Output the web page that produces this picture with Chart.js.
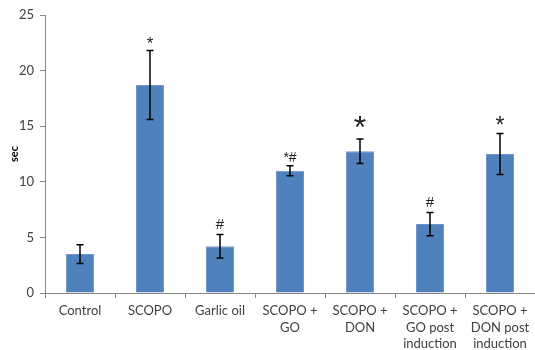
<!DOCTYPE html>
<html>
<head>
<meta charset="utf-8">
<script src="https://cdn.jsdelivr.net/npm/chart.js@4/dist/chart.umd.min.js"></script>
<style>
  html, body { margin: 0; padding: 0; background: #fff; }
  #wrap { width: 535px; height: 350px; position: relative; }
</style>
</head>
<body>
<div id="wrap"><canvas id="chart"></canvas></div>
<script>
// data
const categories = [
    ['Control'],
    ['SCOPO'],
    ['Garlic oil'],
    ['SCOPO +', 'GO'],
    ['SCOPO +', 'DON'],
    ['SCOPO +', 'GO post', 'induction'],
    ['SCOPO +', 'DON post', 'induction']
]
const means = [3.5, 18.7, 4.2, 11.0, 12.75, 6.2, 12.5]
const errors = [0.85, 3.1, 1.05, 0.45, 1.1, 1.05, 1.85]
const marks = ['', '*', '#', '*#', '*', '#', '*']
const yTicks = [0, 5, 10, 15, 20, 25]

// look of the significance marks (font size, gap above error bar)
const markSizes = [12, 17, 15, 14, 32, 15, 23]
const markGaps = [0, 2, 6, 4, 1, 5, 0]

const axisColor = '#868686'
const textColor = '#404040'
const fontFamily = 'Lato, "Liberation Sans", sans-serif'
const markFont = '"Liberation Sans", Arial, sans-serif'

// error bars + significance marks
const errorBarPlugin = {
    id: 'errorBars',
    afterDatasetsDraw(chart) {
        const ctx = chart.ctx
        const yScale = chart.scales.y
        const meta = chart.getDatasetMeta(0)
        ctx.save()
        meta.data.forEach((bar, i) => {
            const x = bar.x
            const top = yScale.getPixelForValue(means[i] + errors[i])
            const bottom = yScale.getPixelForValue(means[i] - errors[i])
            ctx.strokeStyle = '#000'
            ctx.lineWidth = 1.5
            ctx.beginPath()
            ctx.moveTo(x, top)
            ctx.lineTo(x, bottom)
            ctx.moveTo(x - 3.5, top)
            ctx.lineTo(x + 3.5, top)
            ctx.moveTo(x - 3.5, bottom)
            ctx.lineTo(x + 3.5, bottom)
            ctx.stroke()

            if(marks[i]) {
                ctx.fillStyle = '#222'
                ctx.font = `${markSizes[i]}px ${markFont}`
                ctx.textAlign = 'center'
                ctx.textBaseline = 'alphabetic'
                ctx.fillText(marks[i], x, top - markGaps[i])
            }
        })
        ctx.restore()
    }
}

new Chart(document.getElementById('chart').getContext('2d'), {
    type: 'bar',
    data: {
        labels: categories,
        datasets: [
            {
                label: 'sec',
                data: means,
                backgroundColor: '#4f81bd',
                borderColor: '#6f97c9',
                borderWidth: 1,
                barPercentage: 0.8,
                categoryPercentage: 0.5
            }
        ]
    },
    options: {
        responsive: true,
        maintainAspectRatio: false,
        animation: false,
        layout: { padding: { top: 15, right: 0, left: 0, bottom: 0 } },
        plugins: {
            legend: { display: false },
            tooltip: { enabled: false }
        },
        scales: {
            x: {
                grid: { drawOnChartArea: false, drawTicks: true, tickLength: 5, offset: true, color: axisColor },
                border: { color: axisColor, width: 1 },
                ticks: {
                    color: textColor,
                    font: { family: fontFamily, size: 13, lineHeight: 1.3 },
                    padding: 4,
                    maxRotation: 0,
                    autoSkip: false
                },
                afterFit: (scale) => { scale.height = 57 }
            },
            y: {
                min: 0,
                max: 25,
                afterBuildTicks: (scale) => { scale.ticks = yTicks.map(v => ({ value: v })) },
                grid: { drawOnChartArea: false, drawTicks: true, tickLength: 5, color: axisColor },
                border: { color: axisColor, width: 1 },
                ticks: {
                    color: textColor,
                    font: { family: fontFamily, size: 13 },
                    padding: 6
                },
                title: {
                    display: true,
                    text: 'sec',
                    color: '#000',
                    font: { family: fontFamily, size: 11, weight: 'bold' },
                    padding: { top: 8, bottom: 0 }
                },
                afterFit: (scale) => { scale.width = 45 }
            }
        }
    },
    plugins: [errorBarPlugin]
})
</script>
</body>
</html>
